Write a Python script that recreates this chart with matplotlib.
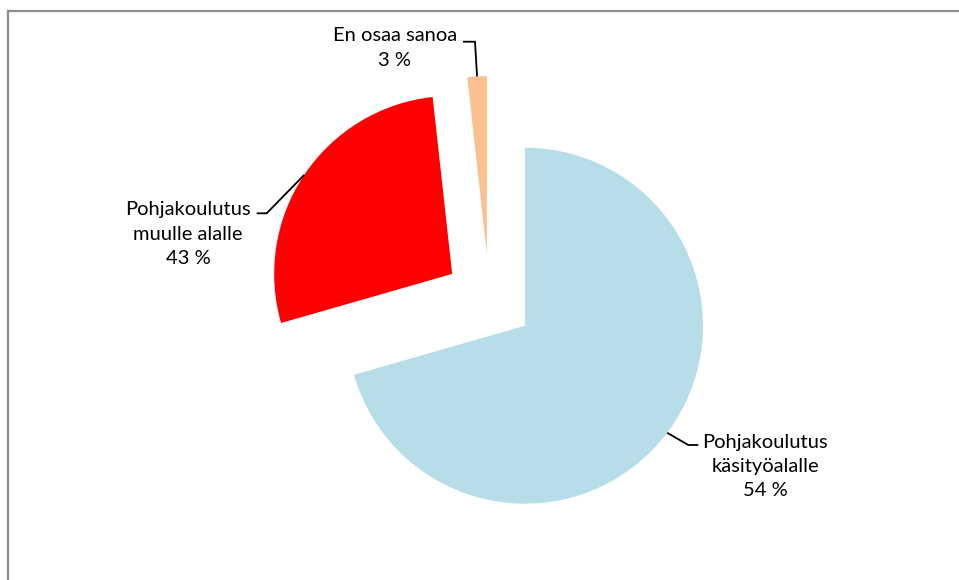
import matplotlib
matplotlib.use("Agg")
import matplotlib.pyplot as plt
import numpy as np
from matplotlib.lines import Line2D

# ---- data ----
categories = ["Pohjakoulutus\nkäsityöalalle", "Pohjakoulutus\nmuulle alalle", "En osaa sanoa"]
slice_values = [70.55, 27.7, 1.75]          # slice sizes as drawn in the picture
label_percents = ["54 %", "43 %", "3 %"]    # percentages printed in the labels
colors = ["#B7DEE8", "#FF0000", "#FAC090"]

W, H = 959, 580
fig = plt.figure(figsize=(W / 100, H / 100), dpi=100)
ax = fig.add_axes([0, 0, 1, 1])

R = 178
center = (489.3, H - 298.8)
wedges, _ = ax.pie(slice_values, colors=colors, startangle=90, counterclock=False,
                   radius=R, center=center, explode=[44.7] * 3,
                   wedgeprops=dict(linewidth=0), frame=True)
ax.set_xlim(0, W)
ax.set_ylim(0, H)
ax.set_aspect("auto")
ax.axis("off")

FONT = ["Lato", "DejaVu Sans"]
FS = 14.5

def anchor(w):
    a = np.deg2rad((w.theta1 + w.theta2) / 2)
    cx, cy = w.center
    return cx + w.r * np.cos(a), cy + w.r * np.sin(a)

# label text positions (image px: x, y of centre of text block) and leader elbows
label_pos = [(765, 466.5), (188, 234), (395, 48)]
elbows = [[(688.3, 445), (698.3, 445)],
          [(266.7, 213.3), (256.7, 213.3)],
          [(475, 41.7), (463, 41.7)]]

for w, cat, pct, (lx, ly), elb in zip(wedges, categories, label_percents, label_pos, elbows):
    ax.text(lx, H - ly, cat + "\n" + pct, ha="center", va="center",
            fontsize=FS, family=FONT, color="#000000", linespacing=1.52)
    ax_, ay_ = anchor(w)
    xs = [ax_] + [p[0] for p in elb]
    ys = [ay_] + [H - p[1] for p in elb]
    ax.plot(xs, ys, color="black", linewidth=1.3, solid_capstyle="butt")

# chart-area border (left and top visible)
fig.add_artist(Line2D([8 / W, 8 / W], [0, 1 - 10.7 / H], color="#8C8C8C", linewidth=1.6))
fig.add_artist(Line2D([8 / W, 1], [1 - 10.7 / H, 1 - 10.7 / H], color="#8C8C8C", linewidth=1.6))

fig.savefig("out.png", dpi=100, facecolor="white")
